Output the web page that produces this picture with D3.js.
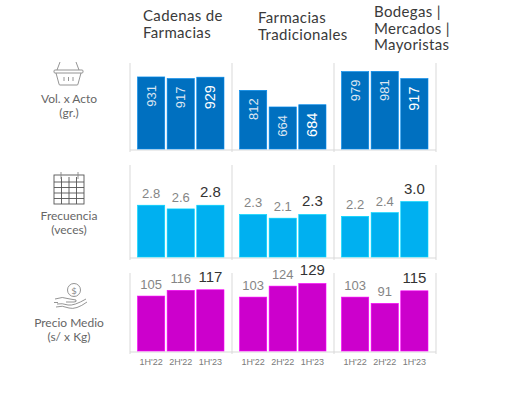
<!DOCTYPE html>
<html>
<head>
<meta charset="utf-8">
<script src="https://cdn.jsdelivr.net/npm/d3@7"></script>
<style>
  body { margin: 0; background: #fff; }
  svg { display: block; }
</style>
</head>
<body>
<div id="container"></div>
<script>
// datos del grafico
const canales = [["Cadenas de", "Farmacias"], ["Farmacias", "Tradicionales"], ["Bodegas |", "Mercados |", "Mayoristas"]];
const periodos = ["1H'22", "2H'22", "1H'23"];
const volumen = [[931, 917, 929], [812, 664, 684], [979, 981, 917]];
const frecuencia = [[2.8, 2.6, 2.8], [2.3, 2.1, 2.3], [2.2, 2.4, 3.0]];
const precio = [[105, 116, 117], [103, 124, 129], [103, 91, 115]];
const metricas = [["Vol. x Acto", "(gr.)"], ["Frecuencia", "(veces)"], ["Precio Medio", "(s/ x Kg)"]];

const w = 525, h = 403;
const gridColor = "#d9d9d9";

const svg = d3.select("#container").append("svg")
  .attr("width", w).attr("height", h);

// columnas (canales)
const colX = d3.scaleBand().domain(d3.range(canales.length)).range([130, 436]);

// filas
const filas = [
  { data: volumen, y: d3.scaleLinear().domain([290, 1055]).range([149, 63]), color: "#0070C0", top: 63, inside: true, fmt: d3.format("d") },
  { data: frecuencia, y: d3.scaleLinear().domain([0, 5]).range([257, 164.5]), color: "#00B0F0", top: 165, inside: false, fmt: d3.format(".1f") },
  { data: precio, y: d3.scaleLinear().domain([0, 150]).range([351, 272.5]), color: "#CC00CC", top: 273, inside: false, fmt: d3.format("d") }
];

// headers
canales.forEach((lines, i) => {
  const baseY = [21, 23, 17][i];
  const xOff = [13, 26, 40][i];
  lines.forEach((l, k) => {
    svg.append("text")
      .attr("x", colX(i) + xOff)
      .attr("y", baseY + k * 16.5)
      .attr("font-family", "Lato, 'Open Sans', sans-serif")
      .attr("font-size", 15)
      .attr("letter-spacing", 0.35)
      .attr("fill", "#3a3a3a")
      .text(l);
  });
});

filas.forEach((f, r) => {
  const g = svg.append("g");
  const base = f.y.range()[0];

  // lineas de los paneles
  colX.domain().concat([canales.length]).forEach(i => {
    const x = i < canales.length ? colX(i) : colX.range()[1];
    g.append("line")
      .attr("x1", x).attr("x2", x)
      .attr("y1", f.top).attr("y2", base + 3)
      .attr("stroke", gridColor).attr("stroke-width", 1);
  });
  g.append("line")
    .attr("x1", colX.range()[0]).attr("x2", colX.range()[1])
    .attr("y1", base + 1).attr("y2", base + 1)
    .attr("stroke", gridColor).attr("stroke-width", 1);

  f.data.forEach((vals, c) => {
    const x = d3.scaleBand().domain(periodos)
      .range([colX(c) + 7.5, colX(c) + 94]).paddingInner(0.08);
    const cg = g.append("g");
    cg.selectAll("rect").data(vals).enter().append("rect")
      .attr("x", (d, k) => x(periodos[k]))
      .attr("y", d => f.y(d))
      .attr("width", x.bandwidth())
      .attr("height", d => base - f.y(d))
      .attr("fill", f.color)
      .attr("stroke", d3.color(f.color).brighter(0.6))
      .attr("stroke-width", 0.6);

    if (f.inside) {
      cg.selectAll("text.val").data(vals).enter().append("text")
        .attr("class", "val")
        .attr("transform", (d, k) => {
          const cx = x(periodos[k]) + x.bandwidth() / 2;
          return `translate(${cx + (k === 2 ? 5 : 4.5)},${f.y(d) + 8}) rotate(-90)`;
        })
        .attr("text-anchor", "end")
        .attr("font-family", "'Liberation Sans', Arial, sans-serif")
        .attr("font-size", (d, k) => k === 2 ? 14.5 : 13)
        .attr("fill", (d, k) => k === 2 ? "#ffffff" : "#dce6f2")
        .text(d => f.fmt(d));
    } else {
      cg.selectAll("text.val").data(vals).enter().append("text")
        .attr("class", "val")
        .attr("x", (d, k) => x(periodos[k]) + x.bandwidth() / 2)
        .attr("y", (d, k) => f.y(d) - (k === 2 ? 8 : 7))
        .attr("text-anchor", "middle")
        .attr("font-family", "'Liberation Sans', Arial, sans-serif")
        .attr("font-size", (d, k) => k === 2 ? 15 : 13)
        .attr("fill", (d, k) => k === 2 ? "#333333" : "#858585")
        .text(d => f.fmt(d));
    }

    if (r === filas.length - 1) {
      cg.selectAll("text.per").data(periodos).enter().append("text")
        .attr("class", "per")
        .attr("x", p => x(p) + x.bandwidth() / 2)
        .attr("y", base + 14)
        .attr("text-anchor", "middle")
        .attr("font-family", "'Liberation Sans', Arial, sans-serif")
        .attr("font-size", 9)
        .attr("fill", "#7a7a7a")
        .text(p => p);
    }
  });
});

// etiquetas de metricas
const labY = [103, 220, 327];
metricas.forEach((lines, i) => {
  lines.forEach((l, k) => {
    svg.append("text")
      .attr("x", 69).attr("y", labY[i] + k * 13.5)
      .attr("text-anchor", "middle")
      .attr("font-family", "Lato, 'Open Sans', sans-serif")
      .attr("font-size", 12)
      .attr("fill", "#666")
      .text(l);
  });
});

// iconos
const ic = svg.append("g").attr("fill", "none").attr("stroke", "#888").attr("stroke-width", 0.9);
// canasta
ic.append("path").attr("d", "M60,62 L57,70 M76,62 L79,70");
ic.append("rect").attr("x", 54).attr("y", 70).attr("width", 29).attr("height", 3).attr("rx", 1);
ic.append("path").attr("d", "M56,73 L59,84 Q59,85 60,85 L77,85 Q78,85 78,84 L81,73");
ic.append("path").attr("d", "M64,77 L64,81 M68.5,77 L68.5,81 M73,77 L73,81");
// calendario
ic.append("rect").attr("x", 54).attr("y", 175).attr("width", 30).attr("height", 29).attr("stroke", "#555");
ic.append("path").attr("stroke", "#555")
  .attr("d", "M54,182 L84,182 M54,187.5 L84,187.5 M54,193 L84,193 M54,198.5 L84,198.5 M61.5,177 L61.5,204 M69,177 L69,204 M76.5,177 L76.5,204");
ic.append("path").attr("d", "M61,172 L61,179 M78,172 L78,179");
// dinero
ic.append("circle").attr("cx", 74).attr("cy", 290).attr("r", 6.5);
svg.append("text").attr("x", 74).attr("y", 293.5).attr("text-anchor", "middle")
  .attr("font-family", "'DejaVu Sans', sans-serif").attr("font-size", 9).attr("fill", "#888").text("$");
ic.append("path").attr("d", "M55,299 Q62,296 70,299 L76,300 Q77,302 74,302 L66,302 M57,304 Q62,303 68,305 Q74,306 86,299");
ic.append("path").attr("d", "M54,302.5 L58,302.5 M56,307 Q62,305 69,308 Q76,310 87,302");
</script>
</body>
</html>
